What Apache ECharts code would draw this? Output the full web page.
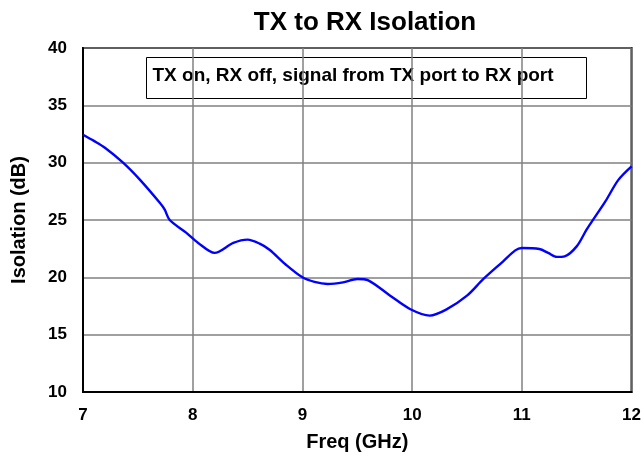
<!DOCTYPE html>
<html>
<head>
<meta charset="utf-8">
<script src="https://cdn.jsdelivr.net/npm/echarts@6/dist/echarts.min.js"></script>
<style>
  html, body { margin: 0; padding: 0; background: #fff; }
  #chart { width: 644px; height: 459px; }
</style>
</head>
<body>
<div id="chart"></div>
<script>
// frequency points (GHz) and isolation (dB)
var freq = [7.0, 7.1, 7.2, 7.365, 7.52, 7.7, 7.745, 7.79, 7.94, 8.05, 8.2, 8.37, 8.5, 8.61, 8.7, 8.85,
  9.0, 9.11, 9.23, 9.37, 9.5, 9.6, 9.8, 9.98, 10.16, 10.31, 10.5, 10.65, 10.83, 10.94,
  11.0, 11.16, 11.24, 11.32, 11.39, 11.5, 11.59, 11.65, 11.76, 11.88, 12.0];
var isolation = [32.44, 31.9, 31.3, 30.0, 28.5, 26.5, 25.9, 25.0, 23.9, 23.0, 22.13, 23.0, 23.29, 22.94, 22.41, 21.1,
  20.0, 19.6, 19.42, 19.56, 19.86, 19.74, 18.4, 17.24, 16.66, 17.18, 18.4, 19.86, 21.4, 22.35,
  22.56, 22.47, 22.13, 21.78, 21.83, 22.7, 24.16, 25.03, 26.6, 28.5, 29.68];

var titleText = 'TX to RX Isolation';
var noteText = 'TX on, RX off, signal from TX port to RX port';
var xName = 'Freq (GHz)';
var yName = 'Isolation (dB)';

var font = 'Liberation Sans, Arial, sans-serif';

var seriesData = freq.map(function (f, i) { return [f, isolation[i]]; });

var chart = echarts.init(document.getElementById('chart'), null, { renderer: 'canvas' });

var option = {
  backgroundColor: '#fff',
  animation: false,
  title: {
    text: titleText,
    left: 360,
    textAlign: 'center',
    top: 5,
    textStyle: { fontFamily: font, fontSize: 26, fontWeight: 'bold', color: '#000' }
  },
  grid: { left: 83, right: 12, top: 48, bottom: 67, show: true, borderColor: '#000', borderWidth: 2 },
  xAxis: {
    type: 'value',
    min: 7, max: 12, interval: 1,
    name: xName,
    nameLocation: 'middle',
    nameGap: 40,
    nameTextStyle: { fontFamily: font, fontSize: 20, fontWeight: 'bold', color: '#000' },
    axisLine: { show: true, lineStyle: { color: '#000', width: 2 } },
    axisTick: { show: false },
    axisLabel: { margin: 15, fontFamily: font, fontSize: 17, fontWeight: 'bold', color: '#000' },
    splitLine: { show: true, lineStyle: { color: '#808080', width: 1.5 } }
  },
  yAxis: {
    type: 'value',
    min: 10, max: 40, interval: 5,
    name: yName,
    nameLocation: 'middle',
    nameGap: 54,
    nameTextStyle: { fontFamily: font, fontSize: 20, fontWeight: 'bold', color: '#000' },
    axisLine: { show: true, lineStyle: { color: '#000', width: 2 } },
    axisTick: { show: false },
    axisLabel: { margin: 16, fontFamily: font, fontSize: 17, fontWeight: 'bold', color: '#000' },
    splitLine: { show: true, lineStyle: { color: '#808080', width: 1.5 } }
  },
  graphic: [
    {
      type: 'group',
      left: 146,
      top: 57,
      children: [
        { type: 'rect', shape: { x: 0, y: 0, width: 440, height: 41 },
          style: { fill: '#fff', stroke: '#000', lineWidth: 1 } },
        { type: 'text', x: 6, y: 18,
          style: { text: noteText, fill: '#000', font: 'bold 19px ' + font, verticalAlign: 'middle' } }
      ]
    }
  ],
  series: [
    {
      type: 'line',
      data: seriesData,
      showSymbol: false,
      smooth: 0.3,
      lineStyle: { color: '#0000ff', width: 2.4 },
      z: 1
    }
  ]
};
chart.setOption(option);
</script>
</body>
</html>
